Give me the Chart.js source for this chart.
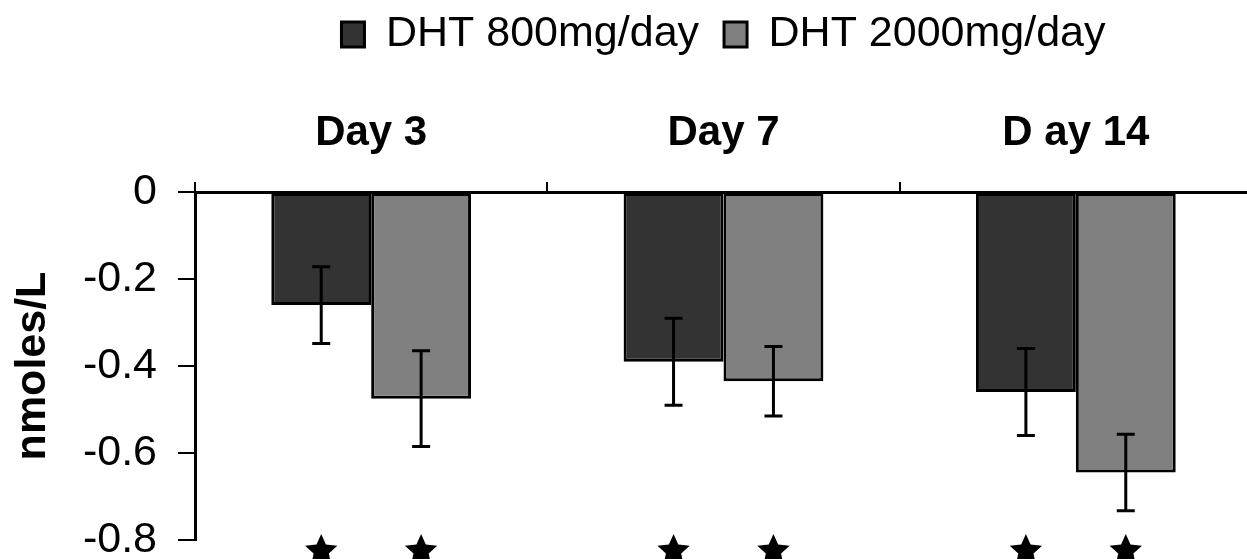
<!DOCTYPE html>
<html><head><meta charset="utf-8">
<script src="https://cdn.jsdelivr.net/npm/chart.js@4/dist/chart.umd.min.js"></script>
<style>
html,body{margin:0;padding:0;background:#fff;overflow:hidden;width:1247px;height:559px}
#wrap{position:absolute;left:0;top:0;width:1256px;height:559px}
</style></head>
<body><div id="wrap"><canvas id="c" width="1256" height="559"></canvas></div>
<script>
const categories = ['Day 3', 'Day 7', 'D ay 14'];
const seriesNames = ['DHT 800mg/day', 'DHT 2000mg/day'];
const dht800 = [-0.26, -0.39, -0.46];
const dht2000 = [-0.475, -0.435, -0.645];
const err800 = [0.088, 0.10, 0.10];
const err2000 = [0.11, 0.08, 0.088];
const sig800 = [true, true, true];
const sig2000 = [true, true, true];
const yTicks = [0, -0.2, -0.4, -0.6, -0.8];
const yTickLabels = ['0', '-0.2', '-0.4', '-0.6', '-0.8'];

const FONT = "'Liberation Sans', Arial, sans-serif";
const errors = [err800, err2000];
const sigs = [sig800, sig2000];

const extrasPlugin = {
  id: 'extras',
  afterDatasetsDraw(chart) {
    const ctx = chart.ctx;
    const ys = chart.scales.y;
    ctx.save();
    chart.data.datasets.forEach((ds, di) => {
      const meta = chart.getDatasetMeta(di);
      meta.data.forEach((bar, i) => {
        const v = ds.data[i], e = errors[di][i];
        const x = bar.x;
        const y1 = ys.getPixelForValue(v + e), y2 = ys.getPixelForValue(v - e);
        ctx.strokeStyle = '#000';
        ctx.lineWidth = 3;
        ctx.beginPath();
        ctx.moveTo(x, y1); ctx.lineTo(x, y2);
        ctx.moveTo(x - 9, y1); ctx.lineTo(x + 9, y1);
        ctx.moveTo(x - 9, y2); ctx.lineTo(x + 9, y2);
        ctx.stroke();
        if (sigs[di][i]) {
          const cy = chart.chartArea.bottom + 11, R = 17, r = 8;
          ctx.fillStyle = '#000';
          ctx.beginPath();
          for (let k = 0; k < 10; k++) {
            const ang = -Math.PI / 2 + k * Math.PI / 5;
            const rad = k % 2 === 0 ? R : r;
            const px = x + rad * Math.cos(ang), py = cy + rad * Math.sin(ang);
            if (k === 0) ctx.moveTo(px, py); else ctx.lineTo(px, py);
          }
          ctx.closePath();
          ctx.fill();
        }
      });
    });
    ctx.restore();
  }
};

new Chart(document.getElementById('c'), {
  type: 'bar',
  data: {
    labels: categories,
    datasets: [
      { label: seriesNames[0], data: dht800, backgroundColor: '#333333', borderColor: '#000', borderWidth: 3, borderSkipped: false },
      { label: seriesNames[1], data: dht2000, backgroundColor: '#808080', borderColor: '#000', borderWidth: 3, borderSkipped: false }
    ]
  },
  options: {
    responsive: false,
    devicePixelRatio: 1,
    animation: false,
    layout: { padding: { top: -12, right: 4, bottom: 19, left: 0 } },
    datasets: { bar: { categoryPercentage: 0.567, barPercentage: 1.0 } },
    plugins: {
      legend: {
        position: 'top',
        fullSize: false,
        labels: {
          color: '#000',
          font: { family: FONT, size: 43 },
          boxWidth: 23,
          boxHeight: 25,
          padding: 25
        }
      },
      tooltip: { enabled: false }
    },
    scales: {
      x: {
        position: 'top',
        grid: { offset: true, drawOnChartArea: false, drawTicks: true, tickLength: 10, color: '#000', lineWidth: 2 },
        border: { display: true, color: '#000', width: 3 },
        ticks: { color: '#000', font: { family: FONT, size: 42, weight: 'bold' }, padding: 23 },
        afterFit(s) { s.height = 126; s.paddingLeft = 0; s.paddingRight = 0; }
      },
      y: {
        min: -0.8,
        max: 0,
        afterBuildTicks(s) { s.ticks = yTicks.map(v => ({ value: v })); },
        grid: { drawOnChartArea: false, drawTicks: true, tickLength: 17, color: '#000', lineWidth: 2 },
        border: { display: true, color: '#000', width: 3 },
        ticks: {
          color: '#000',
          font: { family: FONT, size: 43 },
          padding: 21,
          callback(value) { const i = yTicks.indexOf(value); return i >= 0 ? yTickLabels[i] : ''; }
        },
        title: {
          display: true,
          text: 'nmoles/L',
          color: '#000',
          font: { family: FONT, size: 43, weight: 'bold' },
          padding: { top: 7, bottom: 10 }
        },
        afterFit(s) { s.width = 195; s.paddingTop = 0; s.paddingBottom = 0; }
      }
    }
  },
  plugins: [extrasPlugin]
});
</script>
</body></html>
